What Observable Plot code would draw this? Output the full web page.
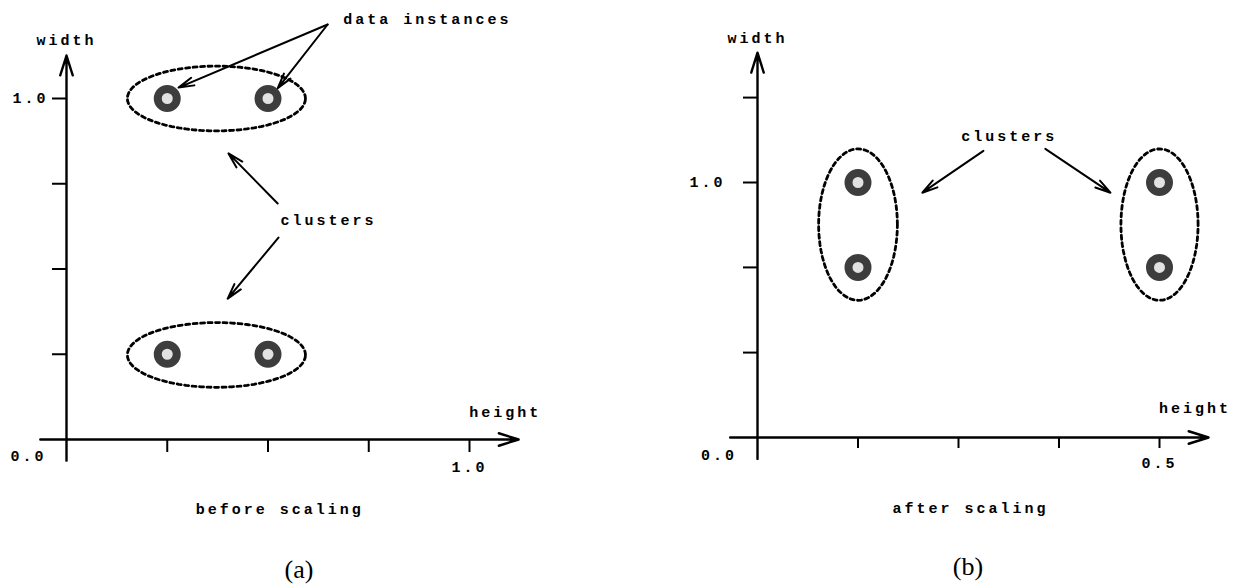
<!DOCTYPE html>
<html><head><meta charset="utf-8">
<script src="https://cdn.jsdelivr.net/npm/d3@7"></script>
<script src="https://cdn.jsdelivr.net/npm/@observablehq/plot@0.6"></script>
<style>
body{margin:0;background:#fff;}
#wrap{display:flex;width:1233px;}
.panel{position:relative;flex:none;overflow:hidden;}
.panel svg{max-width:none !important;display:block;}
.cap{font-family:"Liberation Serif","Times New Roman",serif;font-size:26px;line-height:28px;text-align:center;color:#000;box-sizing:border-box;}
</style></head><body>
<div id="wrap"><div class="panel" id="pa" style="width:616px"></div><div class="panel" id="pb" style="width:617px"></div></div>
<script>
// ---------- Panel (a): before scaling ----------
const pointsA = [{h:0.25,w:1.0},{h:0.5,w:1.0},{h:0.25,w:0.25},{h:0.5,w:0.25}];
const clustersA = [{id:"top",cx:0.372,cy:1.0,rx:0.221,ry:0.095},{id:"bottom",cx:0.372,cy:0.248,rx:0.221,ry:0.095}];
const xTicksA = [0.25,0.5,0.75,1.0];
const xTickLabelsA = ["","","","1.0"];
const yTicksA = [0.25,0.5,0.75,1.0];
const yTickLabelsA = ["","","","1.0"];
const axesA = [{x1:-0.065,y1:0,x2:1.122,y2:0},{x1:0,y1:-0.062,x2:0,y2:1.126}];
const labelsA = [
  {x:0,y:1.17,text:"width"},
  {x:1.089,y:0.079,text:"height"},
  {x:0.529,y:-0.205,text:"before scaling"},
  {x:0.65,y:0.642,text:"clusters"},
  {x:-0.094,y:-0.05,text:"0.0"}
];
const startLabelsA = [{x:0.687,y:1.232,text:"data instances"}];
const arrowsA = [
  {x1:0.648,y1:1.217,x2:0.278,y2:1.032},
  {x1:0.648,y1:1.217,x2:0.524,y2:1.03},
  {x1:0.524,y1:0.692,x2:0.402,y2:0.839},
  {x1:0.526,y1:0.592,x2:0.4,y2:0.413}
];

// ---------- Panel (b): after scaling ----------
const pointsB = [{h:0.125,w:1.0},{h:0.125,w:0.667},{h:0.5,w:1.0},{h:0.5,w:0.667}];
const clustersB = [{id:"left",cx:0.125,cy:0.835,rx:0.049,ry:0.297},{id:"right",cx:0.5,cy:0.835,rx:0.048,ry:0.297}];
const xTicksB = [0.125,0.25,0.375,0.5];
const xTickLabelsB = ["","","","0.5"];
const yTicksB = [0.333,0.667,1.0,1.333];
const yTickLabelsB = ["","","1.0",""];
const axesB = [{x1:-0.034,y1:0,x2:0.561,y2:0},{x1:0,y1:-0.084,x2:0,y2:1.509}];
const labelsB = [
  {x:0,y:1.564,text:"width"},
  {x:0.544,y:0.113,text:"height"},
  {x:0.265,y:-0.276,text:"after scaling"},
  {x:0.313,y:1.183,text:"clusters"},
  {x:-0.048,y:-0.068,text:"0.0"}
];
const startLabelsB = [];
const arrowsB = [
  {x1:0.281,y1:1.124,x2:0.205,y2:0.96},
  {x1:0.358,y1:1.132,x2:0.439,y2:0.96}
];

// outline of each cluster ellipse (from its centre and radii)
function outline(clusters){
  const out = [];
  for (const c of clusters){
    for (let i = 0; i <= 72; i++){
      const t = i / 72 * 2 * Math.PI;
      out.push({id:c.id, x:c.cx + c.rx*Math.cos(t), y:c.cy + c.ry*Math.sin(t)});
    }
  }
  return out;
}

function panel(o){
  return Plot.plot({
    width:o.width, height:556,
    marginLeft:o.ml, marginRight:o.mr, marginTop:o.mt, marginBottom:o.mb,
    style:{fontFamily:"'Liberation Mono','DejaVu Sans Mono',monospace", fontSize:"15px", fontWeight:"bold", letterSpacing:"3px", color:"#000", background:"#fff", maxWidth:"none"},
    x:{domain:o.xd, axis:null},
    y:{domain:[0,1], axis:null},
    marks:[
      Plot.axisX({ticks:o.xt, tickFormat:d=>o.xtl[o.xt.indexOf(d)], tickSize:o.xts, tickPadding:o.xtp, strokeWidth:2, label:null}),
      Plot.axisY({ticks:o.yt, tickFormat:d=>o.ytl[o.yt.indexOf(d)], tickSize:14, tickPadding:o.ytp, strokeWidth:2, label:null}),
      Plot.arrow(o.axes, {x1:"x1",y1:"y1",x2:"x2",y2:"y2", stroke:"#000", strokeWidth:2.4, headLength:13, headAngle:35}),
      Plot.line(outline(o.clusters), {x:"x", y:"y", z:"id", stroke:"#000", strokeWidth:2.8, strokeDasharray:"4,3.5", curve:"linear"}),
      Plot.dot(o.points, {x:"h", y:"w", r:9.5, stroke:"#3d3d3d", strokeWidth:8, fill:"#e2e2e2"}),
      Plot.arrow(o.arrows, {x1:"x1",y1:"y1",x2:"x2",y2:"y2", stroke:"#000", strokeWidth:2, headLength:12, headAngle:30}),
      Plot.text(o.labels, {x:"x", y:"y", text:"text", textAnchor:"middle", fill:"#000"}),
      Plot.text(o.startLabels, {x:"x", y:"y", text:"text", textAnchor:"start", fill:"#000"})
    ]
  });
}

const a = panel({width:616, ml:66, mr:147, mt:98, mb:117, xd:[0,1],
  xt:xTicksA, xtl:xTickLabelsA, xts:13, xtp:9, yt:yTicksA, ytl:yTickLabelsA, ytp:4,
  axes:axesA, clusters:clustersA, points:pointsA, arrows:arrowsA, labels:labelsA, startLabels:startLabelsA});
const b = panel({width:617, ml:141, mr:74, mt:182, mb:119, xd:[0,0.5],
  xt:xTicksB, xtl:xTickLabelsB, xts:11, xtp:9, yt:yTicksB, ytl:yTickLabelsB, ytp:18,
  axes:axesB, clusters:clustersB, points:pointsB, arrows:arrowsB, labels:labelsB, startLabels:startLabelsB});

const pa = document.getElementById("pa");
pa.appendChild(a);
const ca = document.createElement("div"); ca.className="cap"; ca.style.width="598px"; ca.textContent="(a)"; pa.appendChild(ca);
const pb = document.getElementById("pb");
pb.appendChild(b);
const cb = document.createElement("div"); cb.className="cap"; cb.style.width="617px"; cb.style.paddingLeft="87px"; cb.style.marginTop="-3px"; cb.textContent="(b)"; pb.appendChild(cb);
</script>
</body></html>
